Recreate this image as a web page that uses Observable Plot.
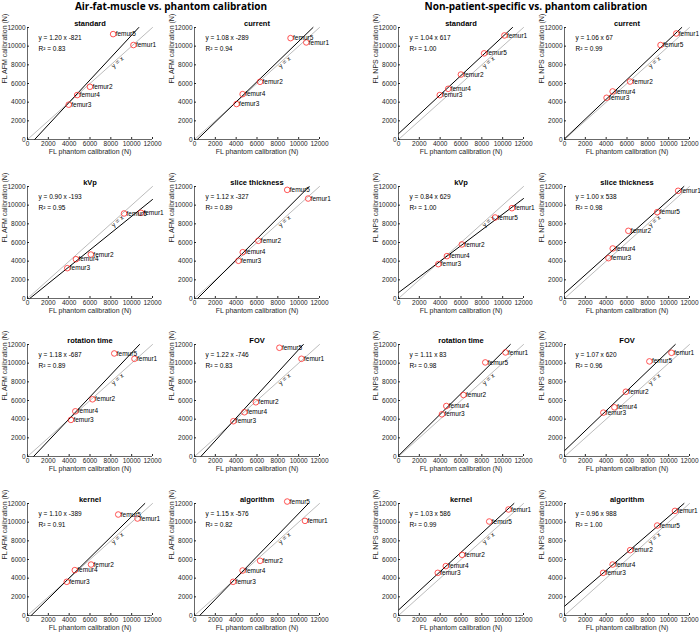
<!DOCTYPE html>
<html><head><meta charset="utf-8">
<script src="https://cdn.jsdelivr.net/npm/d3@7"></script>
<script src="https://cdn.jsdelivr.net/npm/@observablehq/plot@0.6"></script>
<style>
body{margin:0;background:#fff;}
#chart{position:relative;width:700px;height:634px;overflow:hidden;font-family:"Liberation Sans",Arial,sans-serif;}
.main-title{position:absolute;top:-1px;font-family:"Open Sans","Liberation Sans",sans-serif;font-weight:bold;font-size:10px;line-height:14px;white-space:nowrap;transform:translateX(-50%);color:#000;}
.panel{position:absolute;}
</style></head><body><div id="chart"></div>
<script>
// ---- data ----
const femurs = ["femur1", "femur2", "femur3", "femur4", "femur5"];
const settings = ["standard", "current", "kVp", "slice thickness", "rotation time", "FOV", "kernel", "algorithm"];
const sectionTitles = ["Air-fat-muscle vs. phantom calibration", "Non-patient-specific vs. phantom calibration"];
const yLabels = ["FL AFM calibration (N)", "FL NPS calibration (N)"];
const xLabel = "FL phantom calibration (N)";
const tickValues = [0, 2000, 4000, 6000, 8000, 10000, 12000];

// FL phantom calibration (x), per setting, femur1..femur5
const phantomStandard  = [10170, 5990, 3960, 4770, 8220];
const phantomCurrent   = [10730, 6290, 4040, 4620, 9220];
const phantomKVp       = [10890, 6080, 3820, 4650, 9270];
const phantomSlice     = [10910, 6130, 4220, 4630, 8900];
const phantomRotation  = [10270, 6240, 4170, 4590, 8330];
const phantomFOV       = [10270, 5890, 3730, 4790, 8150];
const phantomKernel    = [10560, 6100, 3770, 4540, 8710];
const phantomAlgorithm = [10605, 6300, 3710, 4620, 8900];

// FL AFM calibration (y)
const afmStandard  = [10120, 5650, 3730, 4760, 11290];
const afmCurrent   = [10400, 6180, 3800, 4860, 10860];
const afmKVp       = [9180, 4710, 3250, 4210, 9110];
const afmSlice     = [10710, 6180, 4040, 4960, 11640];
const afmRotation  = [10470, 6130, 3920, 4840, 11040];
const afmFOV       = [10470, 5810, 3780, 4740, 11650];
const afmKernel    = [10390, 5460, 3610, 4860, 10820];
const afmAlgorithm = [10140, 5860, 3610, 4820, 12210];

// FL NPS calibration (y)
const npsStandard  = [11150, 6960, 4760, 5430, 9230];
const npsCurrent   = [11360, 6210, 4470, 5150, 10120];
const npsKVp       = [9680, 5790, 3680, 4540, 8680];
const npsSlice     = [11540, 7250, 4320, 5360, 9250];
const npsRotation  = [11150, 6590, 4520, 5410, 10080];
const npsFOV       = [11110, 6940, 4700, 5270, 10190];
const npsKernel    = [11360, 6500, 4570, 5290, 10070];
const npsAlgorithm = [11210, 7000, 4570, 5460, 9640];

// regression fits
const afmSlope     = [1.20, 1.08, 0.90, 1.12, 1.18, 1.22, 1.10, 1.15];
const afmIntercept = [-821, -289, -193, -327, -687, -746, -389, -576];
const afmR2        = [0.83, 0.94, 0.95, 0.89, 0.89, 0.83, 0.91, 0.82];
const npsSlope     = [1.04, 1.06, 0.84, 1.00, 1.11, 1.07, 1.03, 0.96];
const npsIntercept = [617, 67, 629, 538, 83, 620, 586, 988];
const npsR2        = [1.00, 0.99, 1.00, 0.98, 0.98, 0.96, 0.99, 1.00];

const phantom = [phantomStandard, phantomCurrent, phantomKVp, phantomSlice, phantomRotation, phantomFOV, phantomKernel, phantomAlgorithm];
const afm = [afmStandard, afmCurrent, afmKVp, afmSlice, afmRotation, afmFOV, afmKernel, afmAlgorithm];
const nps = [npsStandard, npsCurrent, npsKVp, npsSlice, npsRotation, npsFOV, npsKernel, npsAlgorithm];

// ---- layout ----
const colLeft = [[27, 194], [398, 564]];
const rowTop = [27, 186, 344, 503];
const PW = 125, PH = 112, ML = 40, MR = 16, MT = 18, MB = 26;
const axisMax = tickValues[tickValues.length - 1];
const fmt = d => String(d);

const chart = document.getElementById("chart");

sectionTitles.forEach((t, s) => {
  const d = document.createElement("div");
  d.className = "main-title";
  d.textContent = t;
  d.style.left = (s === 0 ? 171 : 536) + "px";
  chart.appendChild(d);
});

function makePanel(section, k) {
  const ys = section === 0 ? afm[k] : nps[k];
  const slope = section === 0 ? afmSlope[k] : npsSlope[k];
  const intercept = section === 0 ? afmIntercept[k] : npsIntercept[k];
  const r2 = section === 0 ? afmR2[k] : npsR2[k];
  const pts = femurs.map((name, i) => ({name, x: phantom[k][i], y: ys[i]}));
  const eq = `y = ${slope.toFixed(2)} x ${intercept}`;
  const r2txt = `R² = ${r2.toFixed(2)}`;
  // fitted line, limited to the axes box
  const fitX = [Math.max(0, -intercept / slope), Math.min(axisMax, (axisMax - intercept) / slope)];
  const yxAt = 8500;
  const svg = Plot.plot({
    width: ML + PW + MR, height: MT + PH + MB,
    marginLeft: ML, marginRight: MR, marginTop: MT, marginBottom: MB,
    x: {domain: [0, axisMax]},
    y: {domain: [0, axisMax]},
    style: {fontFamily: "'Liberation Sans', Arial, sans-serif", fontSize: "6.5px", background: "transparent", overflow: "visible", color: "#262626"},
    marks: [
      Plot.line([0, axisMax], {x: d => d, y: d => d, stroke: "#b4b4b4", strokeWidth: 0.9}),
      Plot.text([yxAt], {x: d => d, y: d => d, text: () => "y = x", rotate: -42, dx: 1.5, dy: 2, fill: "#000", fontSize: 6.5}),
      Plot.line(fitX, {x: d => d, y: d => slope * d + intercept, stroke: "#000", strokeWidth: 1}),
      Plot.dot(pts, {x: "x", y: "y", r: 2.8, stroke: "#ff2a2a", strokeWidth: 0.8, fill: "none"}),
      Plot.text(pts, {x: "x", y: "y", text: "name", textAnchor: "start", dx: 2.5, fill: "#000", fontSize: 6.5}),
      Plot.ruleX([0], {stroke: "#262626", strokeWidth: 0.7}),
      Plot.ruleY([0], {stroke: "#262626", strokeWidth: 0.7}),
      Plot.axisX({ticks: tickValues, tickFormat: fmt, tickSize: -2, tickPadding: 4, label: null, fontSize: 6.5, stroke: "#262626"}),
      Plot.axisY({ticks: tickValues, tickFormat: fmt, tickSize: -2, tickPadding: 4, label: null, fontSize: 6.5, stroke: "#262626"}),
      Plot.text([settings[k]], {frameAnchor: "top", dy: -7, fontWeight: "bold", fontSize: 7.5, fill: "#000"}),
      Plot.text([xLabel], {frameAnchor: "bottom", dy: 14, fontSize: 7, fill: "#262626"}),
      Plot.text([yLabels[section]], {frameAnchor: "left", dx: -23, rotate: -90, fontSize: 7, fill: "#262626"}),
      Plot.text([eq], {frameAnchor: "top-left", dx: 11, dy: 8, textAnchor: "start", fill: "#000", fontSize: 6.5}),
      Plot.text([r2txt], {frameAnchor: "top-left", dx: 11, dy: 19, textAnchor: "start", fill: "#000", fontSize: 6.5})
    ]
  });
  svg.classList.add("panel");
  const row = Math.floor(k / 2), col = k % 2;
  svg.style.left = (colLeft[section][col] - ML) + "px";
  svg.style.top = (rowTop[row] - MT) + "px";
  chart.appendChild(svg);
}

for (let s = 0; s < 2; s++) for (let k = 0; k < 8; k++) makePanel(s, k);
</script>
</body></html>
